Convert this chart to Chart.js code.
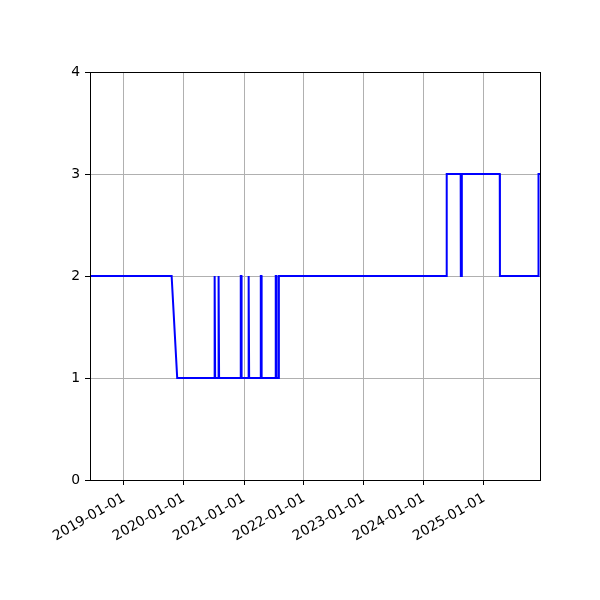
<!DOCTYPE html>
<html>
<head>
<meta charset="utf-8">
<script src="https://cdn.jsdelivr.net/npm/chart.js@4.4.1/dist/chart.umd.min.js"></script>
<style>
  html, body { margin: 0; padding: 0; background: #ffffff; }
  #wrap { width: 600px; height: 600px; }
</style>
</head>
<body>
<div id="wrap"><canvas id="c" width="600" height="600"></canvas></div>
<script>
// ---- data ----
const dates = [
  '2018-06-08','2019-10-18','2019-11-21',
  '2020-07-03','2020-07-04','2020-07-08','2020-07-09',
  '2020-07-27','2020-07-28','2020-08-01','2020-08-02',
  '2020-12-11','2020-12-12','2020-12-16','2020-12-17',
  '2021-01-26','2021-01-27','2021-01-31','2021-02-01',
  '2021-04-12','2021-04-13','2021-04-17','2021-04-18',
  '2021-07-12','2021-07-13','2021-07-17','2021-07-18',
  '2021-07-31','2021-08-01',
  '2024-05-18','2024-05-19',
  '2024-08-12','2024-08-13','2024-08-18','2024-08-19',
  '2025-04-07','2025-04-08',
  '2025-11-28','2025-11-29','2025-12-08'
];
const values = [
  2, 2, 1,
  1, 2, 2, 1,
  1, 2, 2, 1,
  1, 2, 2, 1,
  1, 2, 2, 1,
  1, 2, 2, 1,
  1, 2, 2, 1,
  1, 2,
  2, 3,
  3, 2, 2, 3,
  3, 2,
  2, 3, 3
];
const xTickLabels = ['2019-01-01','2020-01-01','2021-01-01','2022-01-01','2023-01-01','2024-01-01','2025-01-01'];
const yTicks = [0, 1, 2, 3, 4];
const xMinDate = '2018-06-08';
const xMaxDate = '2025-12-08';

function toMs(s) {
  const p = s.split('-').map(Number);
  return Date.UTC(p[0], p[1] - 1, p[2]);
}
function fmt(ms) {
  const d = new Date(ms);
  const mm = String(d.getUTCMonth() + 1).padStart(2, '0');
  const dd = String(d.getUTCDate()).padStart(2, '0');
  return d.getUTCFullYear() + '-' + mm + '-' + dd;
}

const points = dates.map((d, i) => ({ x: toMs(d), y: values[i] }));
const FONT = { family: 'DejaVu Sans', size: 13.9 };

const framePlugin = {
  id: 'frame',
  afterDatasetsDraw(chart) {
    const a = chart.chartArea, ctx = chart.ctx;
    ctx.save();
    ctx.strokeStyle = '#000000';
    ctx.lineWidth = 1;
    ctx.strokeRect(Math.round(a.left) + 0.5, Math.round(a.top) + 0.5,
                   Math.round(a.right - a.left), Math.round(a.bottom - a.top));
    ctx.restore();
  }
};

new Chart(document.getElementById('c'), {
  type: 'line',
  data: {
    datasets: [{
      data: points,
      borderColor: '#0000ff',
      borderWidth: 2,
      pointRadius: 0,
      tension: 0,
      fill: false
    }]
  },
  options: {
    responsive: false,
    animation: false,
    devicePixelRatio: 1,
    layout: { padding: { left: 0, right: 60, top: 72, bottom: 0 } },
    plugins: { legend: { display: false }, tooltip: { enabled: false } },
    scales: {
      x: {
        type: 'linear',
        min: toMs(xMinDate),
        max: toMs(xMaxDate),
        afterBuildTicks: (s) => { s.ticks = xTickLabels.map(t => ({ value: toMs(t) })); },
        afterFit: (s) => { s.height = 120; },
        ticks: {
          callback: (v) => fmt(v),
          minRotation: 30, maxRotation: 30,
          autoSkip: false,
          color: '#000000',
          font: FONT,
          padding: 5
        },
        grid: { color: '#b0b0b0', lineWidth: 1, tickColor: '#000000', tickLength: 5 },
        border: { display: false }
      },
      y: {
        min: 0, max: 4,
        afterBuildTicks: (s) => { s.ticks = yTicks.map(v => ({ value: v })); },
        afterFit: (s) => { s.width = 90; },
        ticks: { color: '#000000', font: FONT, padding: 5 },
        grid: { color: '#b0b0b0', lineWidth: 1, tickColor: '#000000', tickLength: 5 },
        border: { display: false }
      }
    }
  },
  plugins: [framePlugin]
});
</script>
</body>
</html>
